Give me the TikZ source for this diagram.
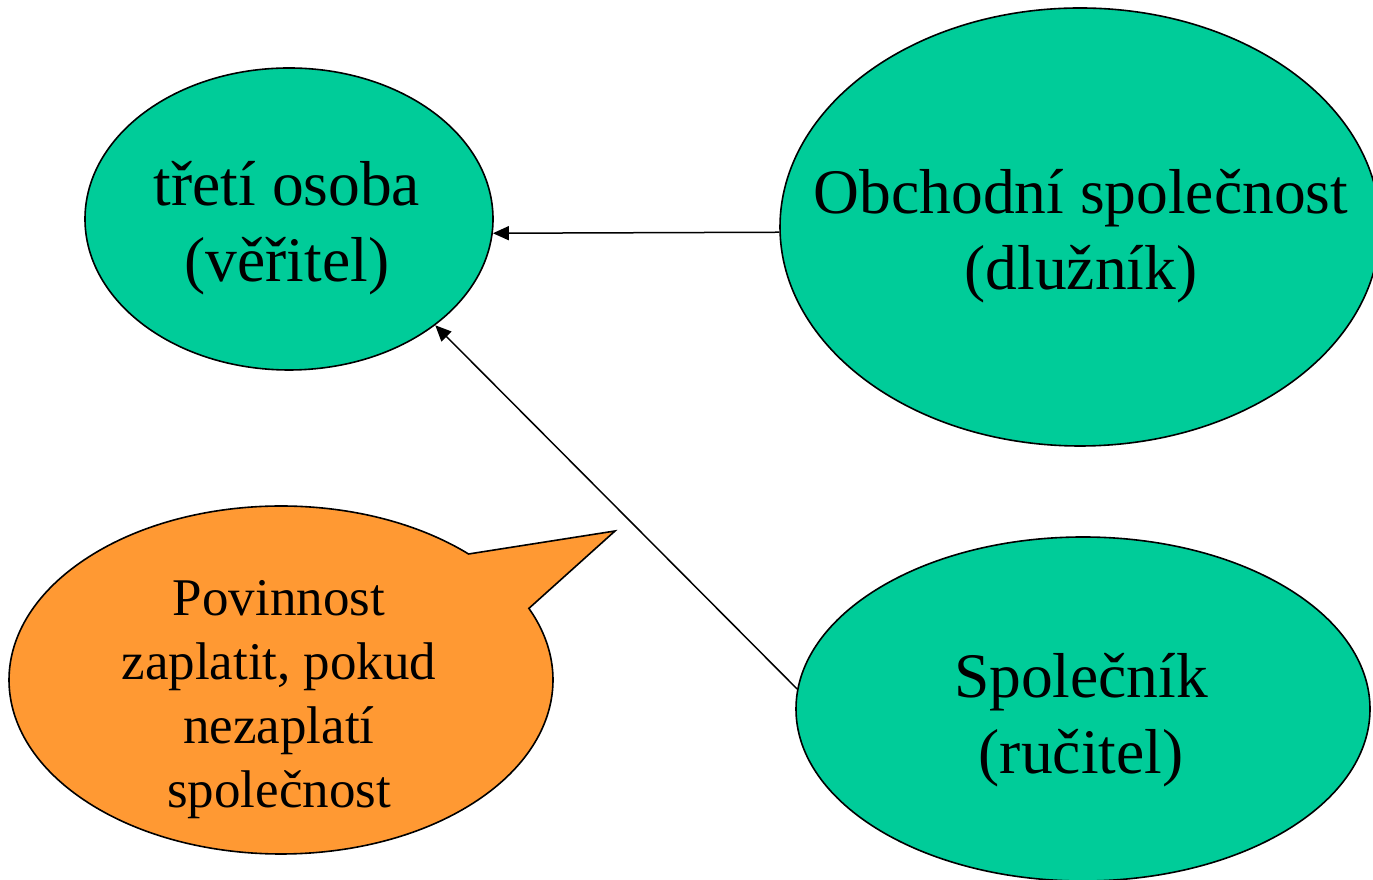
\documentclass[tikz,border=0pt]{standalone}
\usepackage{fontspec}
\setmainfont{Liberation Serif}
\usetikzlibrary{shapes.geometric,arrows.meta}
\definecolor{gr}{RGB}{0,204,153}
\definecolor{orng}{RGB}{255,153,51}
\begin{document}
\begin{tikzpicture}[x=1pt,y=1pt,
  oval/.style={ellipse, draw=black, line width=1.6pt, fill=gr, inner sep=0pt},
  lbl/.style={align=center, font=\fontsize{63.5}{76}\selectfont, inner sep=0pt},
  note/.style={align=center, font=\fontsize{53}{64}\selectfont, inner sep=0pt},
  bubble/.style={fill=orng, draw=black, line width=1.6pt, line join=miter},
  arr/.style={line width=1.5pt, -{Triangle[length=16pt,width=14pt]}}]
\useasboundingbox (0,0) rectangle (1373,880);
\node[oval, minimum width=408pt, minimum height=302pt] (treti) at (289,661) {};
\node[oval, minimum width=600pt, minimum height=438pt] (obch) at (1080,653) {};
\node[oval, minimum width=574pt, minimum height=344pt] (spol) at (1083,171) {};
\filldraw[bubble] (281,200) ++(46.4:272pt and 174pt)
  arc[start angle=46.4, end angle=384.3, x radius=272pt, y radius=174pt]
  -- (615,349) -- cycle;
\node[lbl] (tretiT) at (287,652) {třetí osoba\\(věřitel)};
\node[lbl] (obchT) at (1081,644) {Obchodní společnost\\(dlužník)};
\node[lbl] (spolT) at (1081,160) {Společník\\(ručitel)};
\node[note] (noteT) at (279,180) {Povinnost\\zaplatit, pokud\\nezaplatí\\společnost};
\draw[arr] (obch.181.6) -- (treti.-4.6);
\draw[arr] (spol.176) -- (treti.-36);
\end{tikzpicture}
\end{document}
